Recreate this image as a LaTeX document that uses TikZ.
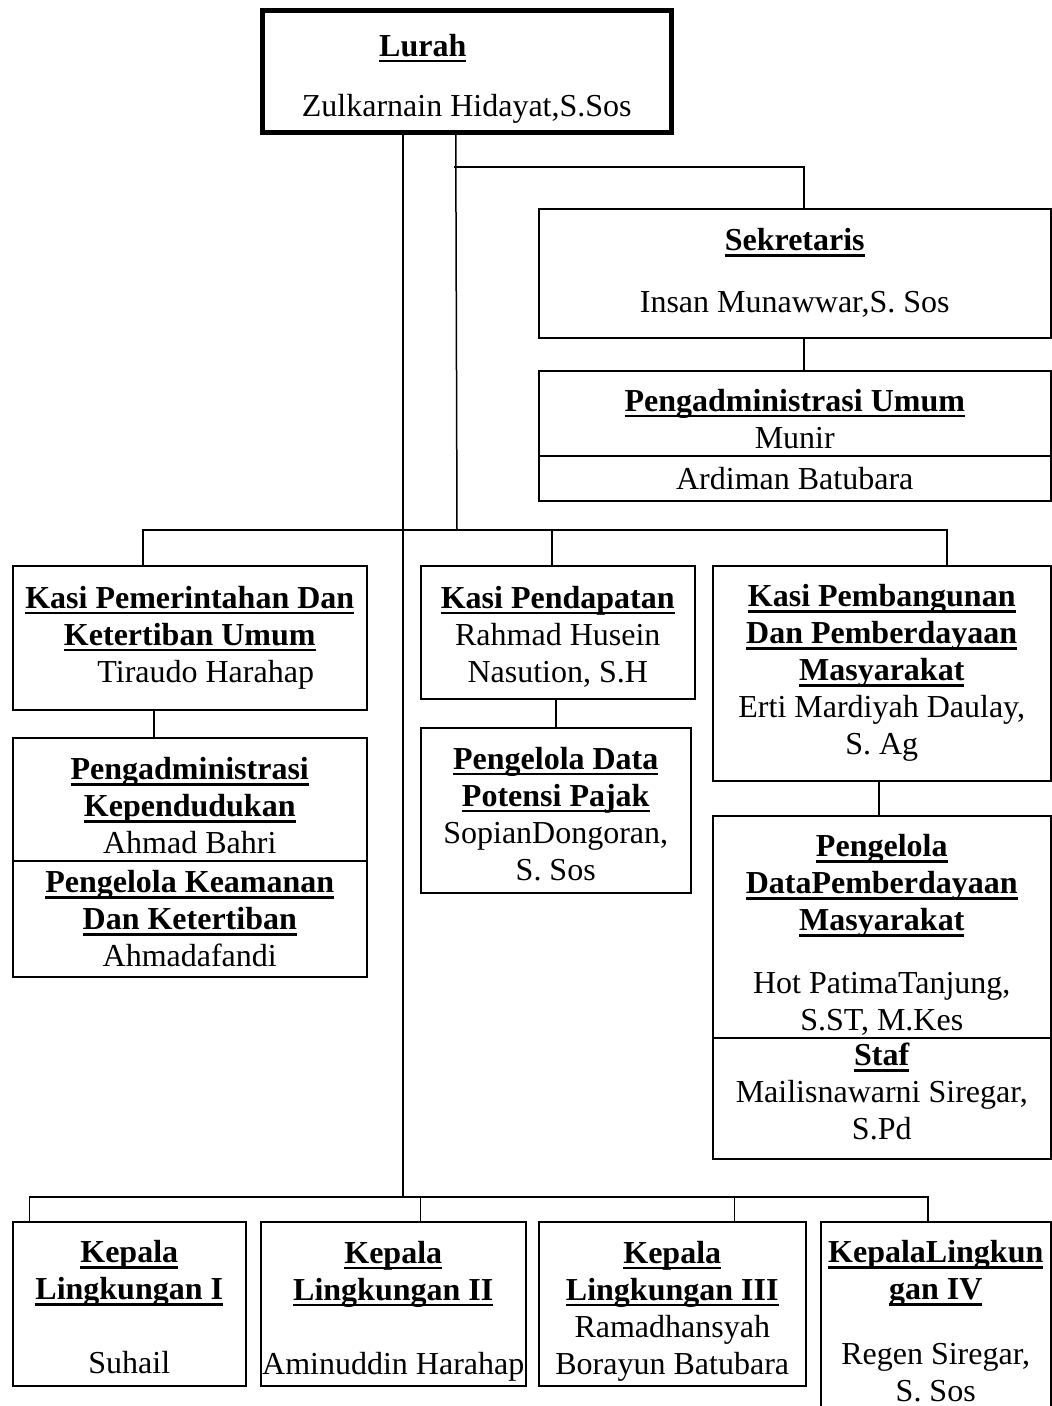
\documentclass[tikz,border=0pt]{standalone}
\usepackage{fontspec}
\setmainfont{Liberation Serif}
\newsavebox{\jbox}
\newcommand{\jabatan}[1]{\sbox{\jbox}{\bfseries #1}\rlap{\rule[-6pt]{\wd\jbox}{2.5pt}}\usebox{\jbox}}
\newcommand{\geser}[1]{\rule{0pt}{#1}}

\begin{document}
\begin{tikzpicture}[x=1pt, y=-1pt,
	box/.style={draw, line width=1.5pt, anchor=north west, align=center, inner sep=0pt, font=\fontsize{32}{37}\selectfont},
	line/.style={line width=1.5pt}]
	\useasboundingbox (0,0) rectangle (1052,1406);

	\node[box, line width=4.5pt, minimum width=409pt, minimum height=122pt] (lurah) at (260,8) {\geser{37pt}\jabatan{Lurah}\rule{88pt}{0pt}\\[23pt] Zulkarnain Hidayat,S.Sos};

	\node[box, minimum width=512pt, minimum height=129pt] (sekretaris) at (538,208) {\jabatan{Sekretaris}\\[25pt] Insan Munawwar,S. Sos};
	\node[box, minimum width=512pt, minimum height=85pt] (admumum) at (538,370) {\geser{33pt}\jabatan{Pengadministrasi Umum}\\ Munir};
	\node[box, minimum width=512pt, minimum height=45pt] (admumumb) at (538,455) {Ardiman Batubara};

	\node[box, minimum width=354pt, minimum height=144pt] (kasipem) at (12,565) {\jabatan{Kasi Pemerintahan Dan}\\ \jabatan{Ketertiban Umum}\\ \rule{32pt}{0pt}Tiraudo Harahap};
	\node[box, minimum width=354pt, minimum height=123pt] (admkep) at (12,737) {\geser{35pt}\jabatan{Pengadministrasi}\\ \jabatan{Kependudukan}\\ Ahmad Bahri};
	\node[box, minimum width=354pt, minimum height=116pt] (keamanan) at (12,860) {\jabatan{Pengelola Keamanan}\\ \jabatan{Dan Ketertiban}\\ Ahmadafandi};

	\node[box, minimum width=274pt, minimum height=133pt] (kasipend) at (420,565) {\geser{31pt}\jabatan{Kasi Pendapatan}\\ Rahmad Husein\\ Nasution, S.H};
	\node[box, minimum width=270pt, minimum height=165pt] (pajak) at (420,727) {\geser{29pt}\jabatan{Pengelola Data}\\ \jabatan{Potensi Pajak}\\ SopianDongoran,\\ S. Sos};

	\node[box, minimum width=338pt, minimum height=215pt] (kasibang) at (712,565) {\jabatan{Kasi Pembangunan}\\ \jabatan{Dan Pemberdayaan}\\ \jabatan{Masyarakat}\\ Erti Mardiyah Daulay,\\ S. Ag};
	\node[box, minimum width=338pt, minimum height=222pt] (pdpm) at (712,815) {\geser{39pt}\jabatan{Pengelola}\\ \jabatan{DataPemberdayaan}\\ \jabatan{Masyarakat}\\[26pt] Hot PatimaTanjung,\\ S.ST, M.Kes};
	\node[box, minimum width=338pt, minimum height=121pt] (staf) at (712,1037) {\jabatan{Staf}\\ Mailisnawarni Siregar,\\ S.Pd\rule[-14pt]{0pt}{0pt}};

	\node[box, minimum width=233pt, minimum height=164pt] (kling1) at (12,1221) {\geser{29pt}\jabatan{Kepala}\\ \jabatan{Lingkungan I}\\[37pt] Suhail};
	\node[box, minimum width=265pt, minimum height=164pt] (kling2) at (260,1221) {\geser{37pt}\jabatan{Kepala}\\ \jabatan{Lingkungan II}\\[37pt] Aminuddin Harahap};
	\node[box, minimum width=267pt, minimum height=164pt] (kling3) at (538,1221) {\geser{37pt}\jabatan{Kepala}\\ \jabatan{Lingkungan III}\\ Ramadhansyah\\ Borayun Batubara};
	\node[box, minimum width=230pt, minimum height=199pt] (kling4) at (820,1221) {\jabatan{KepalaLingkun}\\ \jabatan{gan IV}\\[28pt] Regen Siregar,\\ S. Sos};

	% garis
	\coordinate (busT) at (457,530);
	\coordinate (busB) at (403,1197);
	\coordinate (sekJ) at (454,167);

	\draw[line] (lurah.south -| busB) -- (busB);
	\draw[line] ([xshift=-11pt]lurah.south) -- (busT);
	\draw[line] (sekJ) -| ([xshift=9pt]sekretaris.north);
	\draw[line] ([xshift=9pt]sekretaris.south) -- ([xshift=9pt]admumum.north);

	\draw[line] ([xshift=-47pt]kasipem.north) |- (busT) -| ([xshift=65pt]kasibang.north);
	\draw[line] ([xshift=-6pt]kasipend.north) |- (busT);
	\draw[line] ([xshift=-36pt]kasipem.south) -- ([xshift=-36pt]admkep.north);
	\draw[line] (pajak.north) -- (pajak.north |- kasipend.south);
	\draw[line] ([xshift=-3pt]kasibang.south) -- ([xshift=-3pt]pdpm.north);

	\draw[line] ([xshift=-100pt]kling1.north) |- (busB) -| ([xshift=-8pt]kling4.north);
	\draw[line] ([xshift=27pt]kling2.north) |- (busB);
	\draw[line] ([xshift=62pt]kling3.north) |- (busB);
\end{tikzpicture}
\end{document}
